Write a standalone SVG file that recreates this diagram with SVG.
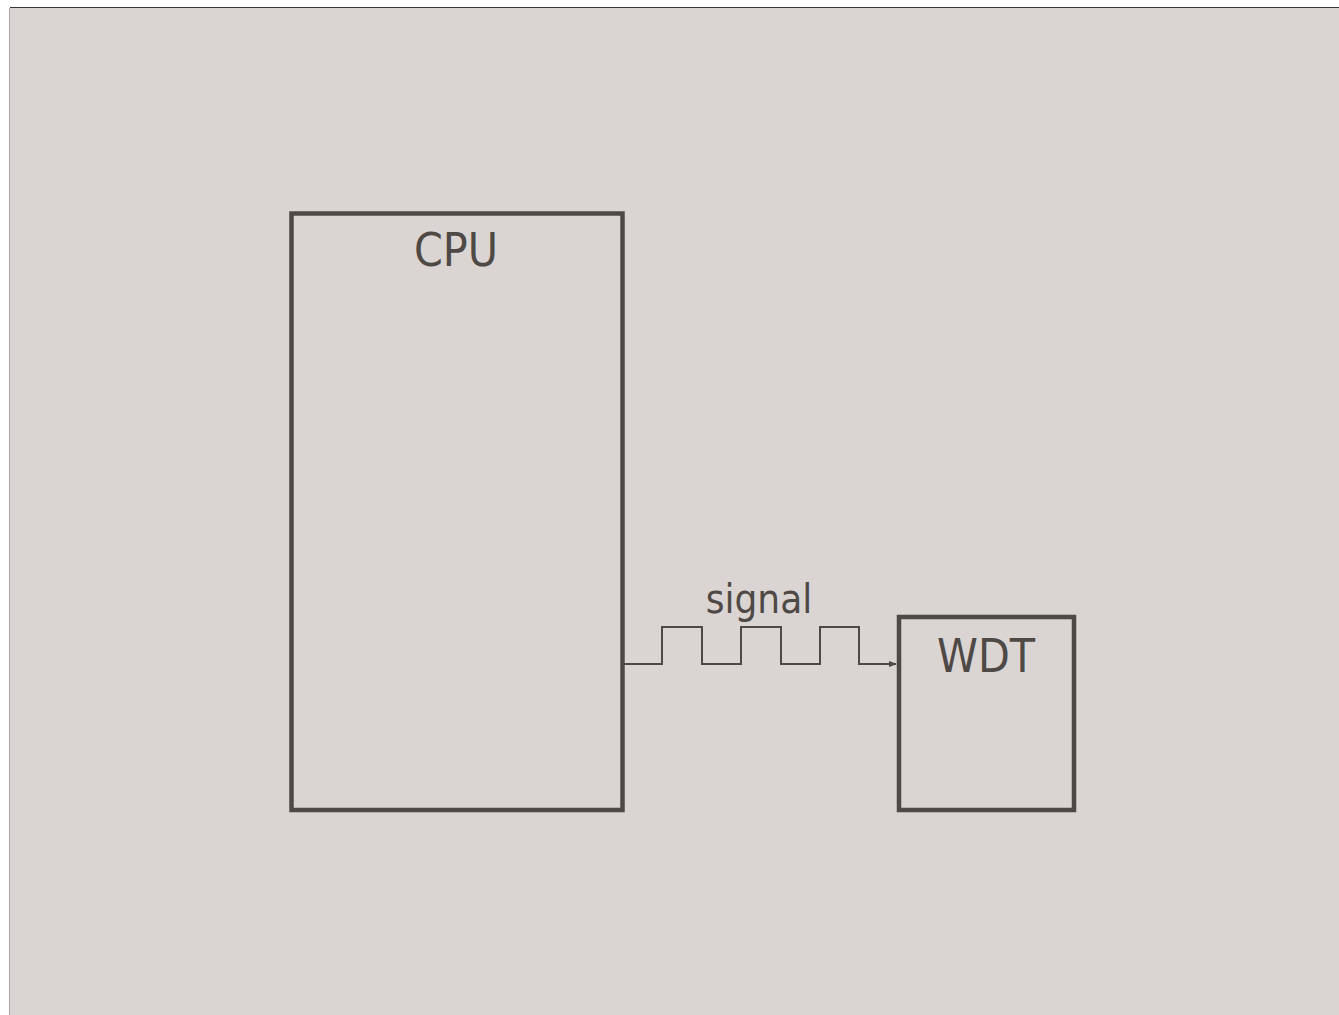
<svg xmlns="http://www.w3.org/2000/svg" width="1339" height="1015" viewBox="0 0 1339 1015">
<style>
.box{fill:none;stroke:#4f4946;stroke-width:4.5}
.lbl{font-family:"DejaVu Sans Condensed","DejaVu Sans",sans-serif;fill:#4f4946;text-anchor:middle}
.wire{fill:none;stroke:#4f4946;stroke-width:2}
</style>
<defs>
<marker id="arr" markerWidth="8" markerHeight="8" refX="7" refY="4" orient="auto" markerUnits="userSpaceOnUse">
<path d="M0,1 L8,4 L0,7 Z" fill="#4f4946"/>
</marker>
</defs>
<rect x="0" y="0" width="1339" height="1015" fill="#ffffff"/>
<rect x="10" y="8" width="1329" height="1007" fill="#dad5d2"/>
<line x1="10" y1="7.5" x2="1339" y2="7.5" stroke="#3a3635" stroke-width="1"/>
<line x1="9.5" y1="8" x2="9.5" y2="1015" stroke="#a8a4a2" stroke-width="1"/>
<g id="cpu">
<rect class="box" x="291.5" y="213.5" width="331" height="596.5"/>
<text class="lbl" x="456" y="266" font-size="46">CPU</text>
</g>
<g id="wdt">
<rect class="box" x="899" y="617" width="175" height="193"/>
<text class="lbl" x="986" y="672" font-size="46">WDT</text>
</g>
<g id="connectors">
<path class="wire" d="M624,664 H662 V627 H702 V664 H741 V627 H781 V664 H820 V627 H859 V664 H896" marker-end="url(#arr)"/>
<text class="lbl" x="759" y="613" font-size="40">signal</text>
</g>
</svg>
